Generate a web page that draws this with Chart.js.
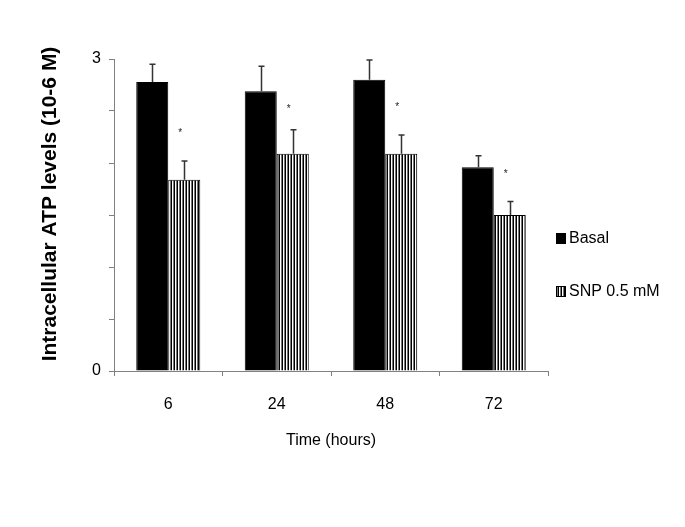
<!DOCTYPE html>
<html>
<head>
<meta charset="utf-8">
<script src="https://cdn.jsdelivr.net/npm/chart.js@4"></script>
<style>
html, body { margin: 0; padding: 0; background: #fff; }
</style>
</head>
<body>
<canvas id="rel1" width="685" height="527"></canvas>
<script>
// data
var hours = ['6', '24', '48', '72'];
var basal = [2.78, 2.69, 2.80, 1.96];
var basalErr = [0.17, 0.24, 0.19, 0.11];
var snp = [1.84, 2.09, 2.09, 1.50];
var snpErr = [0.18, 0.23, 0.18, 0.13];
var starLevel = [2.32, 2.55, 2.57, 1.92]; // where the "*" sits
var yLabels = [0, 3];
var yTitle = 'Intracellular ATP levels (10-6 M)';

var font = 'Liberation Sans, Arial, sans-serif';
var canvas = document.getElementById('rel1');
var ctx0 = canvas.getContext('2d');

// vertical stripes for the SNP bars
function stripes() {
	var c = document.createElement('canvas');
	c.width = 3; c.height = 4;
	var g = c.getContext('2d');
	g.fillStyle = '#fff'; g.fillRect(0, 0, 3, 4);
	g.fillStyle = '#000'; g.fillRect(0, 0, 1, 4);
	g.fillStyle = '#777'; g.fillRect(2, 0, 1, 4);
	return ctx0.createPattern(c, 'repeat');
}
var stripeFill = stripes();

var errorBars = {
	id: 'errorBars',
	afterDatasetsDraw: function(chart) {
		var ctx = chart.ctx, y = chart.scales.y;
		ctx.save();
		ctx.strokeStyle = '#333';
		ctx.lineWidth = 1.5;
		chart.data.datasets.forEach(function(ds, i) {
			chart.getDatasetMeta(i).data.forEach(function(bar, j) {
				var top = y.getPixelForValue(ds.data[j] + ds.errors[j]);
				var x = Math.round(bar.x) + 0.5;
				ctx.beginPath();
				ctx.moveTo(x, bar.y);
				ctx.lineTo(x, top);
				ctx.moveTo(x - 3, top);
				ctx.lineTo(x + 3, top);
				ctx.stroke();
			});
		});
		// significance marks over SNP bars
		ctx.fillStyle = '#222';
		ctx.font = '10px ' + font;
		ctx.textAlign = 'center';
		ctx.textBaseline = 'alphabetic';
		chart.getDatasetMeta(1).data.forEach(function(bar, j) {
			ctx.fillText('*', bar.x - 4, y.getPixelForValue(starLevel[j]) + 6);
		});
		ctx.restore();
	}
};

// legend on the right + y title (sits a bit above the axis centre in the original)
var sideText = {
	id: 'sideText',
	afterDraw: function(chart) {
		var ctx = chart.ctx;
		var rows = [238, 291];
		ctx.save();
		ctx.font = '16px ' + font;
		ctx.textBaseline = 'middle';
		ctx.textAlign = 'left';
		chart.data.datasets.forEach(function(ds, i) {
			ctx.fillStyle = ds.backgroundColor;
			ctx.fillRect(556, rows[i] - 5, 10, 11);
			ctx.strokeStyle = '#000';
			ctx.lineWidth = 1;
			ctx.strokeRect(556.5, rows[i] - 4.5, 9, 10);
			ctx.fillStyle = '#000';
			ctx.fillText(ds.label, 569, rows[i] + 1);
		});
		ctx.translate(50, 204);
		ctx.rotate(-Math.PI / 2);
		ctx.textAlign = 'center';
		ctx.font = 'bold 21px ' + font;
		ctx.fillText(yTitle, 0, 0);
		ctx.restore();
	}
};

var rel1 = new Chart(canvas, {
	type: 'bar',
	data: {
		labels: hours,
		datasets: [{
			label: 'Basal',
			data: basal,
			errors: basalErr,
			backgroundColor: '#000',
			borderColor: '#000',
			borderWidth: 1
		},
		{
			label: 'SNP 0.5 mM',
			data: snp,
			errors: snpErr,
			backgroundColor: stripeFill,
			borderColor: '#000',
			borderWidth: 1
		}]
	},
	options: {
		responsive: false,
		animation: false,
		devicePixelRatio: 1,
		layout: { padding: { left: 0, right: 137, top: 59, bottom: 0 } },
		categoryPercentage: 0.59,
		barPercentage: 1.0,
		plugins: {
			legend: { display: false },
			tooltip: { enabled: false }
		},
		scales: {
			x: {
				offset: true,
				afterFit: function(s) { s.height = 156; },
				grid: { display: true, drawOnChartArea: false, offset: true, tickLength: 5, color: '#808080' },
				border: { color: '#808080', width: 1 },
				ticks: { color: '#000', padding: 19, font: { family: font, size: 16 } },
				title: {
					display: true,
					text: 'Time (hours)',
					color: '#000',
					font: { family: font, size: 16 },
					padding: { top: 0, bottom: 77 }
				}
			},
			y: {
				min: 0,
				max: 3,
				afterFit: function(s) { s.width = 114; },
				grid: { display: true, drawOnChartArea: false, tickLength: 5, color: '#808080' },
				border: { color: '#808080', width: 1 },
				ticks: {
					stepSize: 0.5,
					padding: 8,
					color: '#000',
					font: { family: font, size: 16 },
					callback: function(v) { return yLabels.indexOf(v) >= 0 ? v : ''; }
				}
			}
		}
	},
	plugins: [errorBars, sideText]
});
</script>
</body>
</html>
